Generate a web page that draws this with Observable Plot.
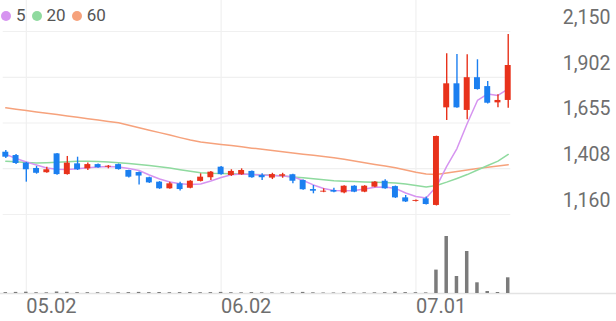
<!DOCTYPE html>
<html><head><meta charset="utf-8">
<script src="https://cdn.jsdelivr.net/npm/d3@7"></script>
<script src="https://cdn.jsdelivr.net/npm/@observablehq/plot@0.6"></script>
<style>
html,body{margin:0;padding:0;background:#fff;}
#chart{position:relative;width:616px;height:321px;overflow:hidden;font-family:Roboto,sans-serif;}
#chart svg{display:block;}
#legend{position:absolute;left:1px;top:6px;display:flex;align-items:center;font-size:17px;color:#555;line-height:19px;z-index:2;}
#legend .item{display:flex;align-items:center;margin-right:6px;}
#legend .dot{width:10px;height:10px;border-radius:50%;margin-right:5px;}
</style></head><body>
<div id="chart"><div id="legend"></div></div>
<script>
// OHLC per trading day (index 0..49)
const open  = [1497,1479,1438,1409,1386,1488,1376,1434,1407,1430,1416,1430,1398,1387,1359,1335,1299,1326,1302,1339,1359,1416,1371,1375,1393,1371,1357,1367,1375,1344,1295,1281,1290,1277,1313,1281,1308,1340,1311,1250,1231,1245,1209,1737,1867,1723,1900,1852,1764,1777];
const high  = [1506,1484,1442,1420,1416,1490,1474,1470,1438,1433,1425,1433,1400,1390,1362,1338,1335,1335,1343,1380,1392,1419,1402,1407,1396,1380,1383,1383,1378,1347,1317,1299,1302,1316,1316,1316,1338,1348,1314,1263,1239,1254,1584,2029,2026,2024,1997,1880,1808,2134];
const low   = [1463,1430,1335,1378,1383,1373,1373,1398,1398,1410,1407,1400,1358,1320,1328,1296,1296,1287,1299,1336,1344,1373,1366,1372,1356,1344,1349,1356,1326,1291,1272,1278,1278,1272,1278,1278,1305,1296,1247,1225,1228,1211,1206,1669,1735,1672,1833,1758,1737,1735];
const close = [1470,1436,1402,1383,1402,1376,1438,1402,1430,1413,1421,1403,1362,1368,1331,1299,1326,1295,1340,1362,1389,1376,1393,1398,1359,1359,1376,1375,1340,1294,1286,1286,1281,1313,1281,1313,1335,1299,1250,1228,1236,1214,1582,1867,1737,1900,1836,1762,1777,1966];
const volume = [90,110,130,80,70,150,120,90,80,70,60,80,90,110,90,100,80,90,100,80,90,110,80,70,90,70,60,60,80,110,70,50,50,80,60,60,70,80,120,90,80,60,2340,5700,1700,4200,1070,200,100,1570];
// moving averages
const ma5  = [1485,1463,1444,1428,1412,1405,1403,1407,1413,1417,1420,1417,1409,1398,1374,1352,1336,1326,1322,1325,1341,1360,1375,1379,1376,1374,1371,1368,1364,1344,1320,1301,1290,1288,1290,1298,1307,1309,1301,1276,1257,1249,1311,1420,1517,1652,1777,1812,1804,1839];
const ma20 = [1448,1445,1441,1438,1440,1442,1445,1448,1448,1447,1444,1440,1436,1431,1425,1418,1411,1402,1394,1386,1383,1382,1381,1379,1377,1375,1373,1368,1363,1359,1353,1348,1343,1340,1338,1336,1335,1333,1331,1325,1317,1309,1317,1335,1355,1376,1401,1425,1449,1485];
const ma60 = [1737,1730,1723,1715,1708,1701,1693,1686,1678,1671,1663,1656,1643,1629,1616,1603,1590,1576,1563,1552,1546,1539,1533,1526,1519,1513,1506,1500,1493,1486,1480,1474,1467,1459,1449,1440,1431,1422,1413,1401,1389,1379,1376,1385,1393,1401,1409,1415,1422,1429];
const yTicks = [1160,1408,1655,1902,2150];
const xTickIdx = [2,21,40];
const xTickLabels = ["05.02","06.02","07.01"];
const maNames = ["5","20","60"];

const RED = "#e8321b", BLUE = "#1b7ff0";
const MA_COLORS = ["#d694f0","#8fda9f","#f6a27c"];
const GRID = "#f0f0f0", TXT = "#6e6e6e";

const candles = open.map((o,i)=>({i, open:o, high:high[i], low:low[i], close:close[i], vol:volume[i], color: close[i]>=o ? RED : BLUE}));
const last = candles.length - 1;
const xDom = [-0.517, 59.56];

const price = Plot.plot({
  width:616, height:218, marginTop:0, marginBottom:0, marginLeft:0, marginRight:0,
  style:{fontFamily:"Roboto, sans-serif", background:"transparent", overflow:"visible"},
  x:{domain:xDom, axis:null},
  y:{domain:[1138.36, 2317.7], axis:null},
  color:{type:"identity"},
  marks:[
    Plot.ruleX(xTickIdx, {stroke:GRID, strokeWidth:1.2}),
    Plot.ruleY(yTicks, {x1:-0.25, x2:last+0.25, stroke:GRID, strokeWidth:1.2}),
    Plot.axisY(yTicks, {anchor:"right", tickSize:0, tickPadding:0, dx:-6, dy:-14, textAnchor:"end", fontSize:19.5, fill:TXT, tickFormat:d3.format(","), label:null}),
    Plot.lineY(ma60, {stroke:MA_COLORS[2], strokeWidth:1.5}),
    Plot.lineY(ma20, {stroke:MA_COLORS[1], strokeWidth:1.5}),
    Plot.lineY(ma5, {stroke:MA_COLORS[0], strokeWidth:1.5}),
    Plot.ruleX(candles, {x:"i", y1:"low", y2:"high", stroke:"color", strokeWidth:1.4}),
    Plot.rect(candles, {x1:d=>d.i-0.29, x2:d=>d.i+0.29, y1:"open", y2:"close", fill:"color"})
  ]
});

const vol = Plot.plot({
  width:616, height:103, marginTop:0, marginBottom:28, marginLeft:0, marginRight:0,
  style:{fontFamily:"Roboto, sans-serif", background:"transparent", overflow:"visible"},
  x:{domain:xDom, axis:null},
  y:{domain:[0,7500], axis:null},
  marks:[
    Plot.ruleX(xTickIdx, {stroke:GRID, strokeWidth:1.2}),
    Plot.ruleY([0], {stroke:"#e3e3e3", strokeWidth:1.5}),
    Plot.rect(candles, {x1:d=>d.i-0.17, x2:d=>d.i+0.17, y1:0, y2:"vol", fill:"#7b7b7b"}),
    Plot.axisX(xTickIdx, {anchor:"bottom", tickSize:0, tickPadding:5, textAnchor:"start", dx:0, fontSize:20, fill:TXT, tickFormat:d=>xTickLabels[xTickIdx.indexOf(d)], label:null})
  ]
});

const chart = document.getElementById("chart");
chart.appendChild(price);
chart.appendChild(vol);

const legend = document.getElementById("legend");
maNames.forEach((n,k)=>{
  const it = document.createElement("div"); it.className="item";
  const dot = document.createElement("span"); dot.className="dot"; dot.style.background = MA_COLORS[k];
  const t = document.createElement("span"); t.textContent = n;
  it.appendChild(dot); it.appendChild(t); legend.appendChild(it);
});
</script>
</body></html>
